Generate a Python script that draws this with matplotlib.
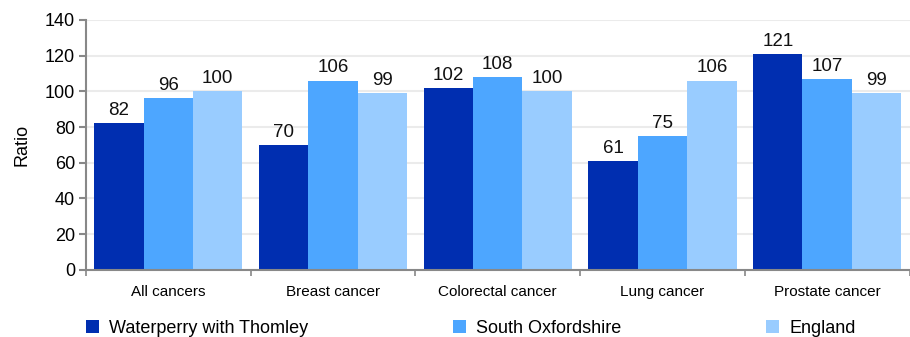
import numpy as np
import matplotlib.pyplot as plt

plt.rcParams['font.family'] = ['Liberation Sans', 'DejaVu Sans']

categories = ["All cancers", "Breast cancer", "Colorectal cancer", "Lung cancer", "Prostate cancer"]
series_names = ["Waterperry with Thomley", "South Oxfordshire", "England"]
waterperry = [82, 70, 102, 61, 121]
south_oxon = [96, 106, 108, 75, 107]
england = [100, 99, 100, 106, 99]
colors = ["#002EB0", "#4DA6FF", "#99CCFF"]

fig = plt.figure(figsize=(9.1, 3.37), dpi=100)
ax = fig.add_axes([0.0945, 0.199, 0.905, 0.742])

x = np.arange(len(categories))
w = 0.3
for i, (vals, name) in enumerate(zip([waterperry, south_oxon, england], series_names)):
    bars = ax.bar(x + (i - 1) * w, vals, width=w, color=colors[i], label=name, zorder=2)
    ax.bar_label(bars, labels=[str(v) for v in vals], padding=3, fontsize=13.5, color="#111111")

ax.set_xlim(-0.5, len(categories) - 0.5)
ax.set_ylim(0, 140)
ax.set_yticks(range(0, 141, 20))
ax.tick_params(axis='y', labelsize=13, length=5, color="#888888", width=1.5, pad=3)
ax.set_xticks(x)
ax.set_xticklabels(categories, fontsize=11)
ax.tick_params(axis='x', length=0, pad=11)
ax.set_xticks(np.arange(-0.5, len(categories), 1.0), minor=True)
ax.tick_params(axis='x', which='minor', length=4, color="#888888", width=1.2)
ax.set_ylabel("Ratio", fontsize=13, labelpad=10)

ax.grid(axis='y', color="#EBEBEB", linewidth=1.5, zorder=0)
ax.set_axisbelow(True)
for s in ["top", "right"]:
    ax.spines[s].set_visible(False)
for s in ["left", "bottom"]:
    ax.spines[s].set_color("#888888")
    ax.spines[s].set_linewidth(1.5)

ax.legend(loc='upper left', bbox_to_anchor=(0.0, -0.2, 0.935, 0.0), ncol=3, mode='expand',
          frameon=False, fontsize=13, handlelength=0.7, handleheight=0.7,
          handletextpad=0.6, borderaxespad=0, borderpad=0)

fig.savefig("out.png", dpi=100)
